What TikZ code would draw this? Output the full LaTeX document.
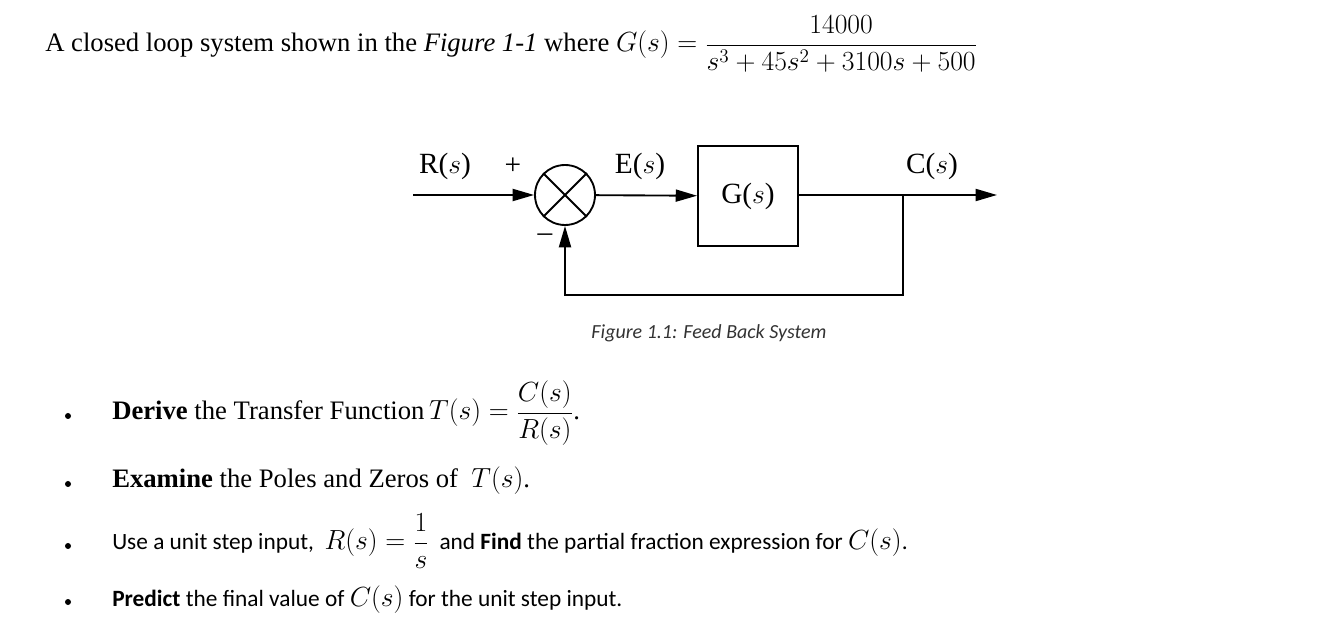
\documentclass[tikz,border=0pt]{standalone}
\usepackage{amsmath}
\usepackage{fontspec}
\setmainfont{Liberation Serif}
\newfontfamily\carl{Carlito}
\usetikzlibrary{arrows.meta}
\begin{document}
\begin{tikzpicture}[x=0.75pt,y=-0.75pt,
  ln/.style={line width=1.4pt},
  arr/.style={ln,-{Triangle[length=16pt,width=9pt]}},
  ser/.style={font=\fontsize{20}{24}\selectfont,inner sep=0pt},
  lab/.style={font=\fontsize{22}{26}\selectfont,inner sep=0pt},
  cb/.style={font=\carl\fontsize{17.5}{21}\selectfont,inner sep=0pt},
  bul/.style={circle,fill,inner sep=0pt,minimum size=4.5pt}]
\useasboundingbox (0,0) rectangle (1343,641);
% header
\node[ser,anchor=base west] (hdr) at (45,52) {A closed loop system shown in the \textit{Figure 1-1} where $G(s)=\dfrac{14000}{s^3+45s^2+3100s+500}$};
% diagram
\coordinate (in) at (413,195);
\node[draw,circle,ln,minimum size=45pt,inner sep=0pt] (sum) at (565,195) {};
\draw[ln] (sum.north west)--(sum.south east) (sum.north east)--(sum.south west);
\node[draw,ln,minimum width=75pt,minimum height=75pt,lab] (G) at (748,196) {G($s$)};
\coordinate (tap) at (903,195);
\coordinate (out) at (997,195);
\coordinate (b1) at (903,295);
\coordinate (b2) at (565,295);
\draw[arr] (in)--(sum);
\draw[arr] (sum)--(G);
\draw[ln] (G.east|-tap)--(tap);
\draw[arr] (tap)--(out);
\draw[arr] (tap)--(b1)--(b2)--(sum);
\node[lab] (R) at (445,166) {R($s$)};
\node[lab] (plus) at (513,166) {+};
\node[lab] (E) at (640,166) {E($s$)};
\node[lab] (C) at (932,166) {C($s$)};
\node[lab] (minus) at (545,238) {--};
\node[inner sep=0pt,font=\carl\itshape\fontsize{15}{18}\selectfont,text=black!80] (cap) at (709,333) {Figure 1.1: Feed Back System};
% bullets
\node[bul] (d1) at (68,416) {};
\node[bul] (d2) at (68,484) {};
\node[bul] (d3) at (68,546) {};
\node[bul] (d4) at (68,602) {};
\node[ser,anchor=base west] (t1) at (112,420) {\textbf{Derive} the Transfer Function$\,T(s)=\dfrac{C(s)}{R(s)}$.};
\node[ser,anchor=base west] (t2) at (112,488) {\textbf{Examine} the Poles and Zeros of \ $T(s)$.};
\node[cb,anchor=base west] (t3) at (112,550) {Use a unit step input, \ {\rmfamily\fontsize{20}{24}\selectfont$R(s)=\dfrac{1}{s}$} \ and \textbf{Find} the partial fraction expression for {\rmfamily\fontsize{20}{24}\selectfont$C(s)$}.};
\node[cb,anchor=base west] (t4) at (112,606) {\textbf{Predict} the final value of {\rmfamily\fontsize{20}{24}\selectfont$C(s)$} for the unit step input.};
\end{tikzpicture}
\end{document}
